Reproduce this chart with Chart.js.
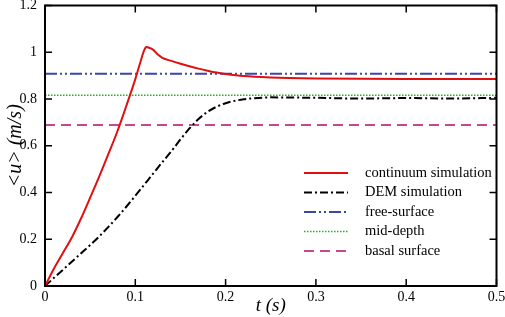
<!DOCTYPE html>
<html>
<head>
<meta charset="utf-8">
<script src="https://cdn.jsdelivr.net/npm/chart.js@4"></script>
<style>
  html, body { margin: 0; padding: 0; background: #fff; }
  #wrap { width: 505px; height: 317px; }
</style>
</head>
<body>
<div id="wrap"><canvas id="velocity"></canvas></div>
<script>
// time (s) and mean velocity (m/s)
const continuumT = [0, 0.01, 0.02, 0.03, 0.04, 0.05, 0.06, 0.07, 0.08, 0.09, 0.1, 0.105, 0.11, 0.112, 0.116, 0.12, 0.125, 0.13, 0.14, 0.15, 0.16, 0.17, 0.18, 0.19, 0.2, 0.22, 0.25, 0.3, 0.4, 0.5];
const continuumU = [0, 0.075, 0.142, 0.21, 0.29, 0.378, 0.468, 0.563, 0.66, 0.77, 0.885, 0.95, 1.01, 1.022, 1.018, 1.01, 0.99, 0.976, 0.963, 0.951, 0.94, 0.93, 0.921, 0.913, 0.907, 0.898, 0.892, 0.888, 0.886, 0.886];
const demT = [0, 0.01, 0.02, 0.03, 0.04, 0.05, 0.06, 0.07, 0.08, 0.09, 0.1, 0.11, 0.12, 0.13, 0.14, 0.15, 0.16, 0.17, 0.18, 0.19, 0.2, 0.21, 0.22, 0.23, 0.25, 0.3, 0.35, 0.4, 0.45, 0.5];
const demU = [0, 0.035, 0.07, 0.105, 0.14, 0.175, 0.212, 0.252, 0.294, 0.339, 0.386, 0.434, 0.482, 0.53, 0.577, 0.627, 0.674, 0.714, 0.745, 0.767, 0.782, 0.792, 0.799, 0.803, 0.807, 0.805, 0.802, 0.804, 0.802, 0.805];
const freeSurface = 0.908;
const midDepth = 0.816;
const basalSurface = 0.689;
const tRange = [0, 0.5];

const pts = (xs, ys) => xs.map((x, i) => ({ x: x, y: ys[i] }));
const flat = v => tRange.map(x => ({ x: x, y: v }));
const fmt = v => String(Number(v.toFixed(2)));

const serif = '"Liberation Serif", "DejaVu Serif", serif';

// frame + inward ticks on all four sides
const framePlugin = {
  id: 'frame',
  afterDraw(chart) {
    const { ctx, chartArea: a, scales } = chart;
    ctx.save();
    ctx.strokeStyle = '#000';
    ctx.lineWidth = 2;
    ctx.strokeRect(a.left, a.top, a.right - a.left, a.bottom - a.top);
    ctx.lineWidth = 1.5;
    ctx.beginPath();
    scales.x.ticks.forEach(t => {
      const px = scales.x.getPixelForValue(t.value);
      ctx.moveTo(px, a.bottom); ctx.lineTo(px, a.bottom - 7);
      ctx.moveTo(px, a.top); ctx.lineTo(px, a.top + 7);
    });
    scales.y.ticks.forEach(t => {
      const py = scales.y.getPixelForValue(t.value);
      ctx.moveTo(a.left, py); ctx.lineTo(a.left + 7, py);
      ctx.moveTo(a.right, py); ctx.lineTo(a.right - 7, py);
    });
    ctx.stroke();
    ctx.restore();
  }
};

// legend drawn inside the plot, lower right
const insideLegend = {
  id: 'insideLegend',
  afterDraw(chart) {
    const { ctx } = chart;
    const x0 = 304, x1 = 348, tx = 365;
    let y = 173;
    ctx.save();
    ctx.font = '14.5px ' + serif;
    ctx.textBaseline = 'middle';
    chart.data.datasets.forEach(ds => {
      ctx.strokeStyle = ds.borderColor;
      ctx.lineWidth = ds.borderWidth;
      ctx.setLineDash(ds.borderDash || []);
      ctx.beginPath();
      ctx.moveTo(x0, y); ctx.lineTo(x1, y);
      ctx.stroke();
      ctx.setLineDash([]);
      ctx.fillStyle = '#000';
      ctx.fillText(ds.label, tx, y);
      y += 19.5;
    });
    ctx.restore();
  }
};

const lineDefaults = { pointRadius: 0, fill: false, tension: 0 };

new Chart(document.getElementById('velocity').getContext('2d'), {
  type: 'line',
  data: {
    datasets: [
      { ...lineDefaults, label: 'continuum simulation', data: pts(continuumT, continuumU), borderColor: '#e01010', borderWidth: 2, cubicInterpolationMode: 'monotone' },
      { ...lineDefaults, label: 'DEM simulation', data: pts(demT, demU), borderColor: '#000', borderWidth: 2, borderDash: [8, 3, 2, 3], cubicInterpolationMode: 'monotone' },
      { ...lineDefaults, label: 'free-surface', data: flat(freeSurface), borderColor: '#3c46a8', borderWidth: 2, borderDash: [12, 3, 2, 3, 2, 3] },
      { ...lineDefaults, label: 'mid-depth', data: flat(midDepth), borderColor: '#22b022', borderWidth: 1.5, borderDash: [1.5, 1.5] },
      { ...lineDefaults, label: 'basal surface', data: flat(basalSurface), borderColor: '#cc4499', borderWidth: 2, borderDash: [10, 6] }
    ]
  },
  options: {
    responsive: true,
    maintainAspectRatio: false,
    animation: false,
    layout: { padding: { top: 5.5, right: 8.5, left: 0, bottom: 0 } },
    plugins: { legend: { display: false }, tooltip: { enabled: false } },
    scales: {
      x: {
        type: 'linear',
        min: 0, max: 0.5,
        grid: { display: false, drawTicks: false },
        border: { display: false },
        ticks: { stepSize: 0.1, color: '#000', padding: 3, maxRotation: 0, callback: fmt, font: { family: serif, size: 14 } },
        title: { display: true, text: 't (s)', color: '#000', padding: 0, font: { family: serif, size: 19, style: 'italic' } },
        afterFit(s) { s.height = 31; s.paddingLeft = 0; s.paddingRight = 0; }
      },
      y: {
        min: 0, max: 1.2,
        grid: { display: false, drawTicks: false },
        border: { display: false },
        ticks: { stepSize: 0.2, color: '#000', padding: 8, callback: fmt, font: { family: serif, size: 14 } },
        title: { display: true, text: '<u> (m/s)', color: '#000', padding: 4, font: { family: serif, size: 20, style: 'italic' } },
        afterFit(s) { s.width = 45; s.paddingTop = 0; s.paddingBottom = 0; }
      }
    }
  },
  plugins: [framePlugin, insideLegend]
});
</script>
</body>
</html>
